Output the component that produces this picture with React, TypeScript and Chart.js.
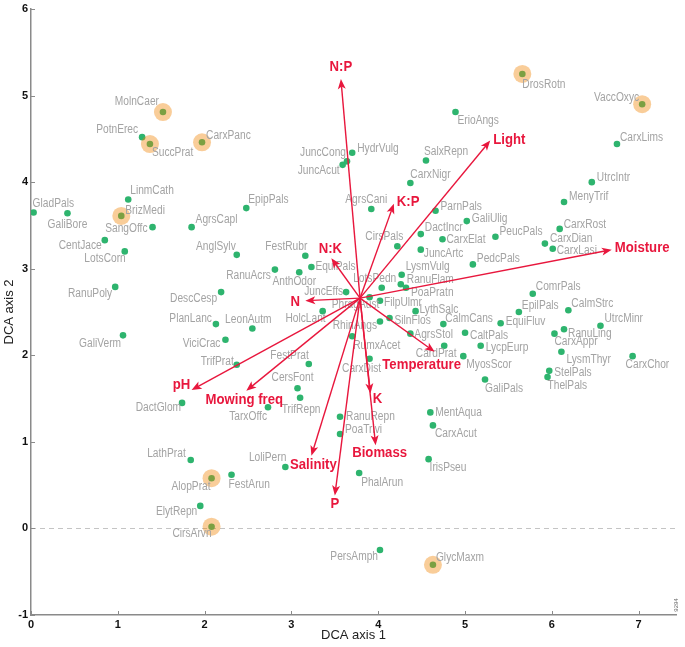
import { useEffect, useRef } from "react";
import { Chart, registerables } from "chart.js";

Chart.register(...registerables);

// ---------- data ----------
const speciesNames = [
  "MolnCaer", "PotnErec", "SuccPrat", "CarxPanc", "LinmCath", "GladPals", "GaliBore", "BrizMedi",
  "SangOffc", "AgrsCapl", "CentJace", "LotsCorn", "AnglSylv", "EpipPals", "HydrVulg", "JuncCong",
  "JuncAcut", "AgrsCani", "SalxRepn", "CarxNigr", "ErioAngs", "DrosRotn", "VaccOxyc", "CarxLims",
  "UtrcIntr", "MenyTrif", "ParnPals", "GaliUlig", "DactIncr", "CarxElat", "PeucPals", "CarxRost",
  "CarxDian", "CarxLasi", "JuncArtc", "CirsPals", "PedcPals", "ComrPals", "EpilPals", "CalmStrc",
  "UtrcMinr", "EquiFluv", "CalmCans", "RanuLing", "CarxAppr", "CaltPals", "LycpEurp", "CardPrat",
  "MyosScor", "LysmThyr", "CarxChor", "StelPals", "ThelPals", "GaliPals", "MentAqua", "CarxAcut",
  "IrisPseu", "GlycMaxm", "PersAmph", "FestRubr", "EquiPals", "AnthOdor", "RanuAcrs", "JuncEffs",
  "LotsPedn", "LysmVulg", "RanuFlam", "PoaPratn", "PhragAust", "FilpUlmr", "HolcLant", "LeonAutm",
  "LythSalc", "SilnFlos", "RhinAngs", "AgrsStol", "RumxAcet", "CarxDist", "FestPrat", "CersFont",
  "TrifRepn", "TarxOffc", "RanuRepn", "PoaTrivi", "PhalArun", "RanuPoly", "DescCesp", "PlanLanc",
  "GaliVerm", "ViciCrac", "TrifPrat", "DactGlom", "LathPrat", "AlopPrat", "FestArun", "LoliPern",
  "ElytRepn", "CirsArvn",
];
const speciesAxis1 = [
  1.52, 1.28, 1.37, 1.97, 1.12, 0.03, 0.42, 1.04,
  1.40, 1.85, 0.85, 1.08, 2.37, 2.48, 3.70, 3.64,
  3.59, 3.92, 4.55, 4.37, 4.89, 5.66, 7.04, 6.75,
  6.46, 6.14, 4.66, 5.02, 4.49, 4.74, 5.35, 6.09,
  5.92, 6.01, 4.49, 4.22, 5.09, 5.78, 5.62, 6.19,
  6.56, 5.41, 4.75, 6.14, 6.03, 5.00, 5.18, 4.76,
  4.98, 6.11, 6.93, 5.97, 5.95, 5.23, 4.60, 4.63,
  4.58, 4.63, 4.02, 3.16, 3.23, 3.09, 2.81, 3.63,
  4.04, 4.27, 4.26, 4.32, 3.90, 4.02, 3.36, 2.55,
  4.43, 4.13, 4.02, 4.37, 3.70, 3.90, 3.20, 3.07,
  3.10, 2.73, 3.56, 3.56, 3.78, 0.97, 2.19, 2.13,
  1.06, 2.24, 2.37, 1.74, 1.84, 2.08, 2.31, 2.93,
  1.95, 2.08,
];
const speciesAxis2 = [
  4.81, 4.52, 4.44, 4.46, 3.80, 3.65, 3.64, 3.61,
  3.48, 3.48, 3.33, 3.20, 3.16, 3.70, 4.34, 4.24,
  4.20, 3.69, 4.25, 3.99, 4.81, 5.25, 4.90, 4.44,
  4.00, 3.77, 3.67, 3.55, 3.40, 3.34, 3.37, 3.46,
  3.29, 3.23, 3.22, 3.26, 3.05, 2.71, 2.50, 2.52,
  2.34, 2.37, 2.36, 2.30, 2.25, 2.26, 2.11, 2.11,
  1.99, 2.04, 1.99, 1.82, 1.75, 1.72, 1.34, 1.19,
  0.80, -0.42, -0.25, 3.15, 3.02, 2.96, 2.99, 2.73,
  2.78, 2.93, 2.82, 2.78, 2.67, 2.63, 2.51, 2.31,
  2.51, 2.43, 2.39, 2.25, 2.22, 1.96, 1.90, 1.62,
  1.51, 1.40, 1.29, 1.09, 0.64, 2.79, 2.73, 2.36,
  2.23, 2.18, 1.89, 1.45, 0.79, 0.58, 0.62, 0.71,
  0.26, 0.02,
];
const highlightedSpecies = [
  "MolnCaer", "SuccPrat", "CarxPanc", "BrizMedi", "DrosRotn", "VaccOxyc", "AlopPrat", "CirsArvn", "GlycMaxm",
];

const envNames = ["N:P", "K:P", "Light", "Moisture", "N:K", "N", "Temperature", "K", "Biomass", "P", "Salinity", "Mowing freq", "pH"];
const envAxis1 = [3.57, 4.18, 5.29, 6.69, 3.46, 3.16, 4.65, 3.91, 3.97, 3.50, 3.23, 2.48, 1.85];
const envAxis2 = [5.19, 3.75, 4.48, 3.22, 3.12, 2.63, 2.04, 1.56, 0.96, 0.38, 0.84, 1.59, 1.60];
const envOriginAxis1 = 3.79;
const envOriginAxis2 = 2.66;

const xTickValues = [0, 1, 2, 3, 4, 5, 6, 7];
const yTickValues = [-1, 0, 1, 2, 3, 4, 5, 6];
const xAxisTitle = "DCA axis 1";
const yAxisTitle = "DCA axis 2";
const figureCode = "9294";

// ---------- layout (label placement: align, dx, dy in px) ----------
const labelLayout: [string, number, number][] = [
  ["R", -4, -10], ["R", -4, -7], ["L", 2, 9], ["L", 4, -7], ["L", 2, -9], ["L", -1, -9], ["C", 0, 11], ["L", 4, -5],
  ["R", -5, 2], ["L", 4, -7], ["R", -3, 6], ["R", 1, 7], ["R", -1, -8], ["L", 2, -8], ["L", 5, -4], ["R", -1, -9],
  ["R", -3, 6], ["C", -5, -9], ["L", -2, -9], ["L", 0, -8], ["L", 2, 9], ["L", 0, 11], ["R", -3, -7], ["L", 3, -6],
  ["L", 5, -4], ["L", 5, -5], ["L", 5, -4], ["L", 5, -2], ["L", 4, -6], ["L", 4, 0], ["L", 4, -5], ["L", 4, -4],
  ["L", 5, -5], ["L", 4, 2], ["L", 3, 4], ["C", -13, -10], ["L", 4, -6], ["L", 3, -7], ["L", 3, -6], ["L", 3, -7],
  ["L", 4, -7], ["L", 5, -2], ["L", 2, -5], ["L", 4, 4], ["L", 0, 8], ["L", 5, 3], ["L", 5, 2], ["C", -8, 8],
  ["L", 3, 9], ["L", 5, 8], ["L", -7, 9], ["L", 5, 2], ["L", 0, 9], ["L", 0, 9], ["L", 5, 0], ["L", 2, 8],
  ["L", 1, 9], ["L", 3, -7], ["R", -2, 7], ["R", 2, -9], ["L", 4, 0], ["C", -5, 10], ["R", -4, 6], ["R", -3, 0],
  ["C", -7, -9], ["L", 4, -8], ["L", 6, -5], ["L", 5, 5], ["C", -14, 7], ["L", 4, 2], ["R", 3, 8], ["C", -4, -9],
  ["L", 4, -1], ["L", 5, 3], ["R", -3, 4], ["L", 4, 1], ["L", 1, 9], ["C", -8, 10], ["R", 0, -8], ["C", -5, -10],
  ["C", 1, 12], ["R", -1, 9], ["L", 6, 0], ["L", 5, -4], ["L", 2, 10], ["R", -3, 7], ["R", -4, 7], ["R", -4, -5],
  ["R", -2, 8], ["R", -5, 4], ["R", -3, -3], ["R", -1, 5], ["R", -5, -6], ["R", -1, 8], ["L", -3, 10], ["R", 1, -9],
  ["R", -3, 6], ["R", 0, 7],
];
const envLabelOffset: [number, number, string][] = [
  [0, -12, "C"], [3, -2, "L"], [3, 0, "L"], [3, -2, "L"], [-1, -9, "C"], [-10, 1, "C"], [-13, 13, "C"],
  [7, 6, "C"], [4, 8, "C"], [0, 9, "C"], [2, 9, "C"], [-2, 9, "C"], [-10, -5, "C"],
];

const RED = "#e8173d";
const GREEN = "#2eb46e";
const LABEL_GRAY = "#a3a3a3";
const AXIS_GRAY = "#8a8a8a";
const LABEL_FONT = "12px 'Liberation Sans', Arial, sans-serif";
const LABEL_SQUEEZE = 0.85;
const ENV_FONT = "bold 14px 'Liberation Sans', Arial, sans-serif";
const ENV_SQUEEZE = 0.94;

function squeezedText(ctx: any, text: string, x: number, y: number, align: string, squeeze: number) {
  ctx.save();
  ctx.translate(x, y);
  ctx.scale(squeeze, 1);
  ctx.textAlign = align === "L" ? "left" : align === "R" ? "right" : "center";
  ctx.fillText(text, 0, 0);
  ctx.restore();
}

const overlayPlugin = {
  id: "overlay",
  beforeDatasetsDraw(chart: any) {
    const { ctx, scales } = chart;
    const xs = scales.x;
    const ys = scales.y;
    ctx.save();
    // dashed zero line
    ctx.strokeStyle = "#c4c4c4";
    ctx.lineWidth = 1;
    ctx.setLineDash([5, 4]);
    const y0 = Math.round(ys.getPixelForValue(0)) + 0.5;
    ctx.beginPath();
    ctx.moveTo(xs.left, y0);
    ctx.lineTo(xs.right, y0);
    ctx.stroke();
    ctx.setLineDash([]);
    // inward tick marks
    ctx.strokeStyle = AXIS_GRAY;
    ctx.lineWidth = 1;
    xTickValues.forEach((v) => {
      const px = Math.round(xs.getPixelForValue(v)) + 0.5;
      ctx.beginPath();
      ctx.moveTo(px, ys.bottom);
      ctx.lineTo(px, ys.bottom - 4);
      ctx.stroke();
    });
    yTickValues.forEach((v) => {
      const py = Math.round(ys.getPixelForValue(v)) + 0.5;
      ctx.beginPath();
      ctx.moveTo(xs.left, py);
      ctx.lineTo(xs.left + 4, py);
      ctx.stroke();
    });
    ctx.restore();
  },
  afterDatasetsDraw(chart: any) {
    const { ctx, scales } = chart;
    const xs = scales.x;
    const ys = scales.y;
    ctx.save();
    // species labels
    ctx.font = LABEL_FONT;
    ctx.fillStyle = LABEL_GRAY;
    ctx.textBaseline = "middle";
    speciesNames.forEach((name, i) => {
      const px = xs.getPixelForValue(speciesAxis1[i]);
      const py = ys.getPixelForValue(speciesAxis2[i]);
      const [al, dx, dy] = labelLayout[i];
      squeezedText(ctx, name, px + dx, py + dy, al, LABEL_SQUEEZE);
    });
    // arrows
    const ox = xs.getPixelForValue(envOriginAxis1);
    const oy = ys.getPixelForValue(envOriginAxis2);
    ctx.strokeStyle = RED;
    ctx.fillStyle = RED;
    ctx.lineWidth = 1.4;
    envNames.forEach((_, i) => {
      const tx = xs.getPixelForValue(envAxis1[i]);
      const ty = ys.getPixelForValue(envAxis2[i]);
      const ang = Math.atan2(ty - oy, tx - ox);
      const c = Math.cos(ang);
      const s = Math.sin(ang);
      const hl = 10;
      const hw = 4;
      ctx.beginPath();
      ctx.moveTo(ox, oy);
      ctx.lineTo(tx - hl * 0.7 * c, ty - hl * 0.7 * s);
      ctx.stroke();
      ctx.beginPath();
      ctx.moveTo(tx, ty);
      ctx.lineTo(tx - hl * c - hw * s, ty - hl * s + hw * c);
      ctx.lineTo(tx - hl * 0.75 * c, ty - hl * 0.75 * s);
      ctx.lineTo(tx - hl * c + hw * s, ty - hl * s - hw * c);
      ctx.closePath();
      ctx.fill();
    });
    // env labels
    ctx.font = ENV_FONT;
    ctx.textBaseline = "middle";
    envNames.forEach((name, i) => {
      const tx = xs.getPixelForValue(envAxis1[i]);
      const ty = ys.getPixelForValue(envAxis2[i]);
      const [dx, dy, al] = envLabelOffset[i];
      squeezedText(ctx, name, tx + dx, ty + dy, al, ENV_SQUEEZE);
    });
    // figure code
    ctx.font = "6px 'Liberation Sans', sans-serif";
    ctx.fillStyle = "#666";
    ctx.translate(xs.right, ys.bottom - 10);
    ctx.rotate(-Math.PI / 2);
    ctx.textAlign = "center";
    ctx.textBaseline = "middle";
    ctx.fillText(figureCode, 0, 0);
    ctx.restore();
  },
};

export default function App() {
  const canvasRef = useRef<HTMLCanvasElement | null>(null);

  useEffect(() => {
    document.body.style.margin = "0";
    const canvas = canvasRef.current;
    if (!canvas) return;
    const greenData = speciesNames.map((_, i) => ({ x: speciesAxis1[i], y: speciesAxis2[i] }));
    const hiData = speciesNames
      .map((n, i) => ({ n, x: speciesAxis1[i], y: speciesAxis2[i] }))
      .filter((d) => highlightedSpecies.includes(d.n))
      .map((d) => ({ x: d.x, y: d.y }));

    const chart = new Chart(canvas, {
      type: "scatter",
      data: {
        datasets: [
          {
            label: "highlight",
            data: hiData,
            pointRadius: 9,
            pointHoverRadius: 9,
            pointBackgroundColor: "rgba(240,130,0,0.40)",
            pointBorderWidth: 0,
            borderWidth: 0,
          },
          {
            label: "species",
            data: greenData,
            pointRadius: 3.3,
            pointHoverRadius: 3.3,
            pointBackgroundColor: GREEN,
            pointBorderWidth: 0,
            borderWidth: 0,
          },
        ],
      },
      options: {
        animation: false,
        responsive: false,
        maintainAspectRatio: false,
        events: [],
        layout: { padding: { top: 4, right: 5, left: 0, bottom: 0 } },
        plugins: { legend: { display: false }, tooltip: { enabled: false }, title: { display: false } },
        scales: {
          x: {
            type: "linear",
            min: 0,
            max: 7.43,
            grid: { display: false, drawTicks: false },
            border: { display: true, color: AXIS_GRAY, width: 1.5 },
            ticks: {
              padding: 3,
              color: "#111",
              font: { family: "'Liberation Sans', Arial, sans-serif", size: 11, weight: "bold" },
            },
            afterBuildTicks: (scale: any) => {
              scale.ticks = xTickValues.map((v) => ({ value: v }));
            },
            afterFit: (scale: any) => {
              scale.height = 32;
              scale.paddingLeft = 0;
              scale.paddingRight = 0;
            },
            title: {
              display: true,
              text: xAxisTitle,
              color: "#222",
              font: { family: "'Liberation Sans', Arial, sans-serif", size: 13 },
              padding: { top: 0, bottom: 4 },
            },
          },
          y: {
            type: "linear",
            min: -1,
            max: 6,
            grid: { display: false, drawTicks: false },
            border: { display: true, color: AXIS_GRAY, width: 1.5 },
            ticks: {
              padding: 3,
              color: "#111",
              font: { family: "'Liberation Sans', Arial, sans-serif", size: 11, weight: "bold" },
            },
            afterBuildTicks: (scale: any) => {
              scale.ticks = yTickValues.map((v) => ({ value: v }));
            },
            afterFit: (scale: any) => {
              scale.width = 31;
              scale.paddingTop = 0;
              scale.paddingBottom = 0;
            },
            title: {
              display: true,
              text: yAxisTitle,
              color: "#222",
              font: { family: "'Liberation Sans', Arial, sans-serif", size: 13 },
              padding: { top: 2, bottom: 0 },
            },
          },
        },
      },
      plugins: [overlayPlugin],
    });
    return () => chart.destroy();
  }, []);

  return (
    <div style={{ width: 685, height: 647 }}>
      <canvas ref={canvasRef} width={685} height={647} style={{ width: 685, height: 647, display: "block" }} />
    </div>
  );
}
